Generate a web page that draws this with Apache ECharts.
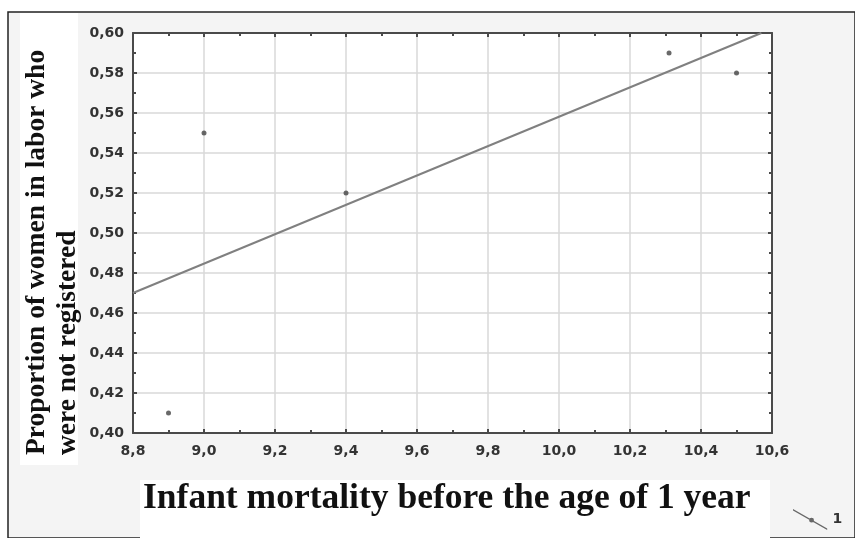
<!DOCTYPE html>
<html><head><meta charset="utf-8">
<script src="https://cdn.jsdelivr.net/npm/echarts@6/dist/echarts.min.js"></script>
<style>html,body{margin:0;padding:0;background:#fff}#c{width:855px;height:538px}</style>
</head><body><div id="c"></div>
<script>
var xValues = [8.9, 9.0, 9.4, 10.31, 10.5];
var yValues = [0.41, 0.55, 0.52, 0.59, 0.58];
var fitX = [8.8, 10.57];
var fitY = [0.47, 0.60];
var xTitle = 'Infant mortality before the age of 1 year';
var yTitleLines = ['Proportion of women in labor who', 'were not registered'];
var legendName = '1';

var points = xValues.map(function (x, i) { return [x, yValues[i]]; });
var fit = fitX.map(function (x, i) { return [x, fitY[i]]; });
var comma = function (d) { return function (v) { return v.toFixed(d).replace('.', ','); }; };

var chart = echarts.init(document.getElementById('c'));
var axisLine = { show: true, lineStyle: { color: '#4a4a4a', width: 2 } };
var tick = { show: true, inside: true, length: 4, lineStyle: { color: '#4a4a4a', width: 2 } };
var minor = { show: true, splitNumber: 2, length: 3, lineStyle: { color: '#4a4a4a', width: 2 } };
var labelFont = { color: '#333', fontFamily: 'DejaVu Sans', fontWeight: 'bold', fontSize: 14 };

chart.setOption({
  backgroundColor: '#fff',
  animation: false,
  graphic: [
    { type: 'rect', shape: { x: 8, y: 12, width: 847, height: 526 }, style: { fill: '#f4f4f4', stroke: '#222', lineWidth: 1.5 }, z: -10 },
    { type: 'rect', shape: { x: 20, y: 13, width: 58, height: 452 }, style: { fill: '#fff' }, z: -9 },
    { type: 'rect', shape: { x: 140, y: 480, width: 630, height: 58 }, style: { fill: '#fff' }, z: -9 },
    { type: 'text', x: 37, y: 455, rotation: Math.PI / 2, style: { text: yTitleLines[0], font: 'bold 27.5px "Liberation Serif"', fill: '#111', textAlign: 'left', textVerticalAlign: 'middle' } },
    { type: 'text', x: 68, y: 455, rotation: Math.PI / 2, style: { text: yTitleLines[1], font: 'bold 27.5px "Liberation Serif"', fill: '#111', textAlign: 'left', textVerticalAlign: 'middle' } },
    { type: 'text', x: 143, y: 499, style: { text: xTitle, font: 'bold 35.5px "Liberation Serif"', fill: '#111', textAlign: 'left', textVerticalAlign: 'middle' } }
  ],
  legend: {
    data: [legendName], left: 793, top: 509, padding: 0, itemWidth: 35, itemHeight: 21, itemGap: 4,
    icon: 'path://M0,0 L35,20 L35,21.5 L0,1.5 Z M16.5,11.4 A2.5,2.5 0 1 1 21.5,11.4 A2.5,2.5 0 1 1 16.5,11.4 Z',
    textStyle: { color: '#333', fontSize: 14, fontWeight: 'bold', fontFamily: 'DejaVu Sans', padding: [10, 0, 0, 0] }
  },
  grid: { left: 133, right: 83, top: 33, bottom: 105, show: true, backgroundColor: '#fff', borderWidth: 0 },
  xAxis: [
    { type: 'value', min: 8.8, max: 10.6, interval: 0.2, position: 'bottom',
      axisLine: axisLine, axisTick: tick, minorTick: minor,
      splitLine: { show: true, lineStyle: { color: '#d9d9d9', width: 1.5 } },
      axisLabel: Object.assign({ margin: 11, formatter: comma(1) }, labelFont) },
    { type: 'value', min: 8.8, max: 10.6, interval: 0.2, position: 'top',
      axisLine: axisLine, axisTick: tick, minorTick: minor, splitLine: { show: false }, axisLabel: { show: false } }
  ],
  yAxis: [
    { type: 'value', min: 0.40, max: 0.60, interval: 0.02, position: 'left',
      axisLine: axisLine, axisTick: tick, minorTick: minor,
      splitLine: { show: true, lineStyle: { color: '#d9d9d9', width: 1.5 } },
      axisLabel: Object.assign({ margin: 9, formatter: comma(2) }, labelFont) },
    { type: 'value', min: 0.40, max: 0.60, interval: 0.02, position: 'right',
      axisLine: axisLine, axisTick: tick, minorTick: minor, splitLine: { show: false }, axisLabel: { show: false } }
  ],
  series: [
    { name: legendName, type: 'scatter', data: points, symbolSize: 5, itemStyle: { color: '#444' }, z: 5 },
    { name: 'fit', type: 'line', data: fit, showSymbol: false, lineStyle: { color: '#808080', width: 2 }, z: 4 }
  ]
});
</script></body></html>
